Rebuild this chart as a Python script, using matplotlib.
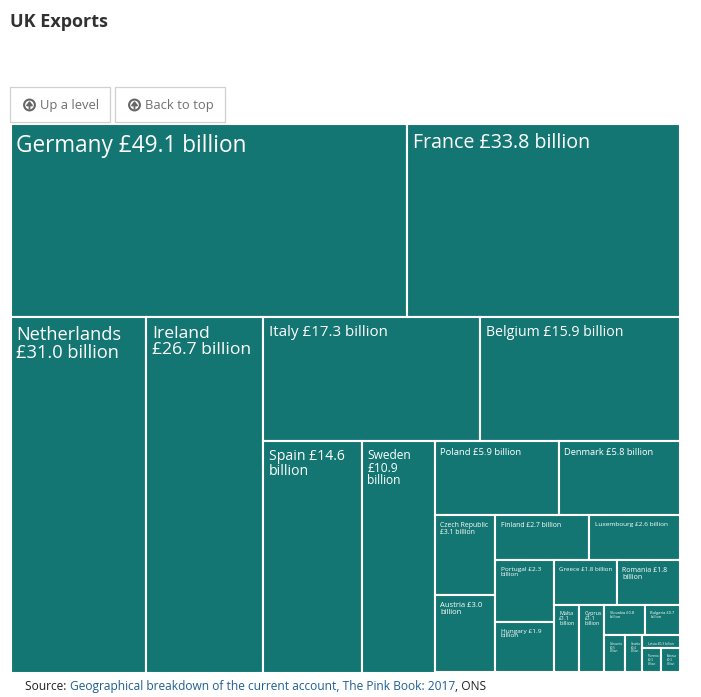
import matplotlib
matplotlib.use("Agg")
import matplotlib.pyplot as plt
from matplotlib.patches import Rectangle, Circle

plt.rcParams["font.family"] = ["Open Sans", "DejaVu Sans"]

# exports, £ billion (smallest tiles are estimates)
countries = ["Germany", "France", "Netherlands", "Ireland", "Italy", "Belgium", "Spain",
             "Sweden", "Poland", "Denmark", "Czech Republic", "Austria", "Finland",
             "Luxembourg", "Portugal", "Hungary", "Greece", "Romania", "Malta", "Cyprus",
             "Slovakia", "Bulgaria", "Lithuania", "Croatia", "Latvia", "Slovenia", "Estonia"]
values = [49.1, 33.8, 31.0, 26.7, 17.3, 15.9, 14.6, 10.9, 5.9, 5.8, 3.1, 3.0, 2.7,
          2.6, 2.3, 1.9, 1.8, 1.8, 1.1, 1.1, 0.8, 0.7, 0.5, 0.4, 0.3, 0.3, 0.3]

# label wrapping: words on each line after the first, counted over the tail of the text
wrap_tail = {"Netherlands": [2], "Ireland": [2], "Spain": [1], "Sweden": [1, 1],
             "Czech Republic": [2], "Austria": [1], "Portugal": [1], "Hungary": [1],
             "Romania": [1], "Malta": [1, 1], "Cyprus": [1, 1], "Slovakia": [1],
             "Bulgaria": [1], "Lithuania": [1, 1], "Croatia": [1, 1], "Slovenia": [1, 1],
             "Estonia": [1, 1]}

font_px = {"Germany": 22.6, "France": 19.7, "Netherlands": 18.3, "Ireland": 17.5, "Italy": 15.1,
           "Belgium": 14.1, "Spain": 14, "Sweden": 12, "Poland": 9.5, "Denmark": 9.3,
           "Czech Republic": 6.9, "Austria": 7.6, "Finland": 6.9, "Luxembourg": 6.5,
           "Portugal": 6.5, "Hungary": 6.5, "Greece": 6.1, "Romania": 7, "Malta": 5.4,
           "Cyprus": 5.4, "Slovakia": 4, "Bulgaria": 4, "Lithuania": 3, "Croatia": 3,
           "Latvia": 3.2, "Slovenia": 3, "Estonia": 3}

# how the rectangle is cut: "r" = stacked rows, "c" = side by side columns
tree = ("r", [
    ("c", ["Germany", "France"]),
    ("c", ["Netherlands", "Ireland", ("r", [
        ("c", ["Italy", "Belgium"]),
        ("c", ["Spain", "Sweden", ("r", [
            ("c", ["Poland", "Denmark"]),
            ("c", [("r", ["Czech Republic", "Austria"]), ("r", [
                ("c", ["Finland", "Luxembourg"]),
                ("c", [("r", ["Portugal", "Hungary"]), ("r", [
                    ("c", ["Greece", "Romania"]),
                    ("c", ["Malta", "Cyprus", ("r", [
                        ("c", ["Slovakia", "Bulgaria"]),
                        ("c", ["Lithuania", "Croatia", ("r", [
                            "Latvia", ("c", ["Slovenia", "Estonia"])])]),
                    ])]),
                ])]),
            ])]),
        ])]),
    ])]),
])

value_of = dict(zip(countries, values))
TEAL = "#147672"


def total(node):
    if isinstance(node, str):
        return value_of[node]
    return sum(total(n) for n in node[1])


def layout(node, x, y, w, h, out):
    if isinstance(node, str):
        out.append((node, x, y, w, h))
        return
    kind, kids = node
    s = total(node)
    for k in kids:
        f = total(k) / s
        if kind == "c":
            layout(k, x, y, w * f, h, out)
            x += w * f
        else:
            layout(k, x, y, w, h * f, out)
            y += h * f


def make_label(name):
    words = f"{name} £{value_of[name]:.1f} billion".split(" ")
    lines = []
    for n in reversed(wrap_tail.get(name, [])):
        lines.insert(0, " ".join(words[-n:]))
        words = words[:-n]
    lines.insert(0, " ".join(words))
    return "\n".join(lines)


fig = plt.figure(figsize=(7.01, 6.97), dpi=100)
ax = fig.add_axes([0, 0, 1, 1])
ax.set_xlim(0, 701)
ax.set_ylim(697, 0)
ax.axis("off")

px = 0.72  # px to pt at dpi 100

ax.text(10, 22, "UK Exports", fontsize=18 * px, fontweight="bold", color="#323132", va="center")

tiles = []
layout(tree, 10.5, 123.5, 669.5, 549, tiles)
for name, x, y, w, h in tiles:
    ax.add_patch(Rectangle((x, y), w, h, fc=TEAL, ec="white", lw=1.5))
    size = font_px[name]
    ax.text(x + 5.5, y + 5.5 + size * 0.22, make_label(name),
            color="white", fontsize=size * px, va="top", ha="left", linespacing=0.97)

# buttons, on top of the white tile border
for bx, bw, txt in [(10, 100, "Up a level"), (115, 110, "Back to top")]:
    ax.add_patch(Rectangle((bx, 87), bw, 35, fc="white", ec="#d0d0d0", lw=0.9, zorder=3))
    cx = bx + 19.5
    ax.add_patch(Circle((cx, 105), 5.4, fc="white", ec="#666666", lw=1.5, zorder=4))
    ax.annotate("", xy=(cx, 101), xytext=(cx, 108.8), zorder=5, arrowprops=dict(
        arrowstyle="-|>,head_width=0.18,head_length=0.22", color="#666666", lw=1.3,
        shrinkA=0, shrinkB=0))
    ax.text(cx + 10.5, 105.5, txt, fontsize=13 * px, color="#707070", va="center", zorder=5)

# source line
t = ax.text(25, 686.5, "Source: ", fontsize=12 * px, color="#222222", va="center")
t = ax.annotate("Geographical breakdown of the current account, The Pink Book: 2017",
                xy=(1, 0), xycoords=t, fontsize=12 * px, color="#206095", va="bottom")
ax.annotate(", ONS", xy=(1, 0), xycoords=t, fontsize=12 * px, color="#222222", va="bottom")

fig.savefig("out.png", dpi=100)
